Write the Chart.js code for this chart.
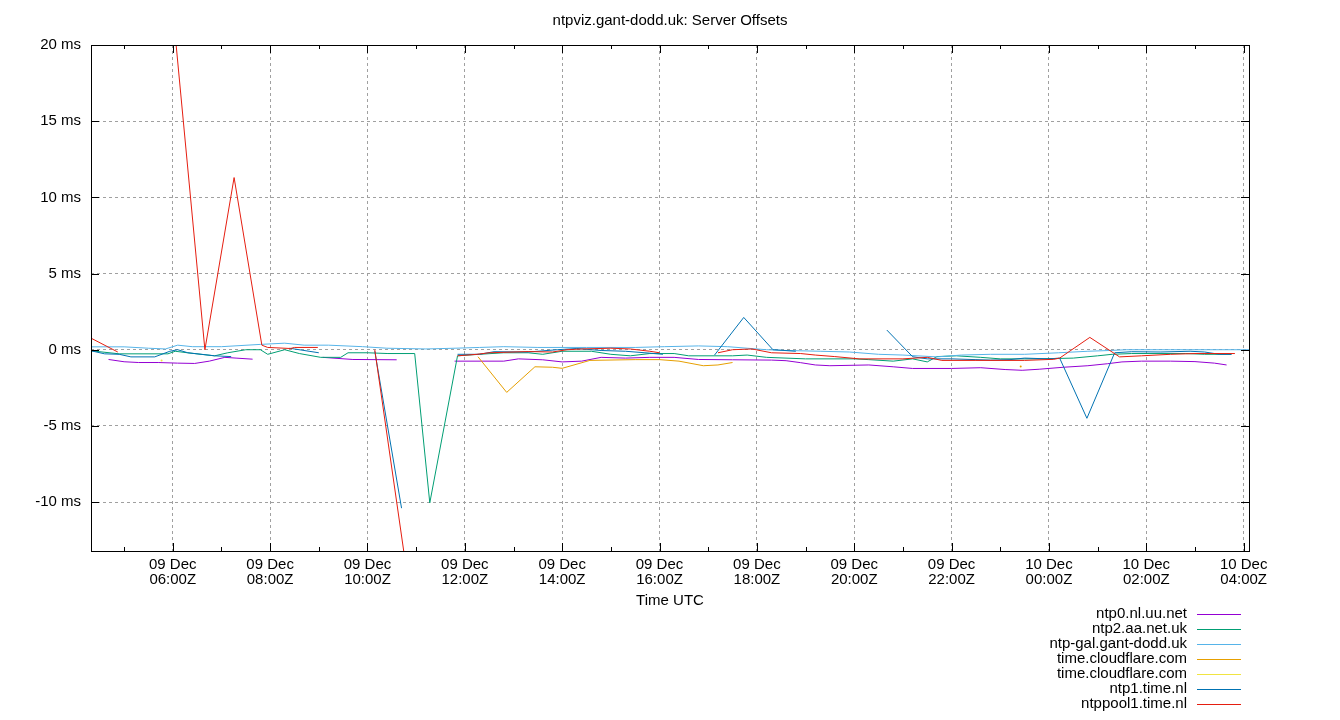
<!DOCTYPE html>
<html><head><meta charset="utf-8">
<script src="https://cdn.jsdelivr.net/npm/chart.js@4/dist/chart.umd.min.js"></script>
<style>html,body{margin:0;padding:0;background:#fff;}canvas{display:block;}</style>
</head><body>
<canvas id="c" width="1340" height="720"></canvas>
<script>
// ---- text ----
const chartTitle = 'ntpviz.gant-dodd.uk: Server Offsets';
const xAxisTitle = 'Time UTC';
const seriesNames = ['ntp0.nl.uu.net','ntp2.aa.net.uk','ntp-gal.gant-dodd.uk','time.cloudflare.com','time.cloudflare.com','ntp1.time.nl','ntppool1.time.nl'];

// ---- ticks (x in hours since 09 Dec 00:00Z) ----
const xTickHours = [6,8,10,12,14,16,18,20,22,24,26,28];
const xTickLabels = [['09 Dec','06:00Z'],['09 Dec','08:00Z'],['09 Dec','10:00Z'],['09 Dec','12:00Z'],['09 Dec','14:00Z'],['09 Dec','16:00Z'],['09 Dec','18:00Z'],['09 Dec','20:00Z'],['09 Dec','22:00Z'],['10 Dec','00:00Z'],['10 Dec','02:00Z'],['10 Dec','04:00Z']];
const yTickValues = [-10,-5,0,5,10,15,20];

// ---- series (hours, offset in ms; null = gap) ----
const ntp0Hours = [4.68,5.0,5.3,5.7,6.1,6.45,6.75,7.07,7.3,7.64,8.3,9.08,9.7,10.6,11.2,11.79,12.8,13.1,13.6,14.0,14.4,14.8,15.3,15.8,16.3,16.8,17.5,18.3,18.6,18.9,19.2,19.5,20.3,20.8,21.2,22.0,22.6,23.1,23.45,23.8,24.3,24.8,25.2,25.5,25.9,26.5,27.0,27.4,27.65];
const ntp0Ms = [-0.64,-0.79,-0.84,-0.84,-0.88,-0.9,-0.75,-0.5,-0.55,-0.62,null,-0.5,-0.64,-0.66,null,-0.75,-0.75,-0.6,-0.66,-0.8,-0.75,-0.5,-0.55,-0.5,-0.5,-0.64,-0.66,-0.68,-0.72,-0.85,-1.0,-1.05,-1.0,-1.12,-1.23,-1.23,-1.18,-1.3,-1.35,-1.28,-1.15,-1.05,-0.92,-0.8,-0.75,-0.75,-0.78,-0.88,-1.0];

const ntp2Hours = [4.32,4.9,5.9,6.05,6.3,6.86,7.13,7.5,7.8,7.95,8.3,8.6,9.04,9.45,9.6,10.0,10.42,10.97,11.28,11.85,12.3,12.8,13.3,13.6,14.0,14.6,15.0,15.4,15.8,16.3,16.6,17.5,17.8,18.2,19.0,20.0,20.3,20.8,21.2,21.5,21.7,22.1,22.6,23.0,23.8,24.5,25.0,25.3,25.7,26.8,27.2,27.75];
const ntp2Ms = [-0.07,-0.27,-0.27,-0.1,-0.2,-0.4,-0.2,0.0,0.0,-0.3,0.0,-0.25,-0.5,-0.5,-0.2,-0.2,-0.25,-0.25,-10.05,-0.4,-0.3,-0.2,-0.2,-0.3,-0.1,-0.1,-0.3,-0.4,-0.25,-0.25,-0.4,-0.4,-0.35,-0.5,-0.6,-0.6,-0.65,-0.75,-0.6,-0.8,-0.45,-0.4,-0.5,-0.6,-0.6,-0.55,-0.4,-0.3,-0.25,-0.25,-0.3,-0.3];

const galHours = [4.32,5.0,5.5,5.85,6.1,6.4,7.0,7.8,8.3,8.7,9.2,9.9,10.4,11.2,11.8,12.3,12.8,13.5,14.5,15.5,16.1,16.8,17.4,17.8,18.2,18.6,19.3,19.9,20.5,21.0,21.7,22.2,22.8,23.5,24.2,24.8,25.25,25.6,26.5,27.5,28.11];
const galMs = [0.19,0.19,0.1,0.05,0.3,0.2,0.2,0.35,0.43,0.3,0.3,0.2,0.1,0.05,0.1,0.15,0.2,0.15,0.15,0.15,0.2,0.25,0.2,0.1,0.0,-0.05,-0.1,-0.15,-0.3,-0.35,-0.47,-0.35,-0.3,-0.3,-0.2,-0.1,-0.05,0.0,0.0,0.0,0.0];

const cloudflareAHours = [12.27,12.86,13.44,13.8,14.0,14.57,15.5,16.0,16.4,16.9,17.2,17.5,20.0,23.42];
const cloudflareAMs = [-0.46,-2.8,-1.12,-1.15,-1.22,-0.7,-0.65,-0.65,-0.75,-1.05,-1.0,-0.84,null,-1.1];

const cloudflareBHours = [5.77];
const cloudflareBMs = [-0.7];

const ntp1Hours = [4.32,4.6,4.9,5.14,5.63,5.94,6.1,6.31,6.86,7.2,7.6,8.4,8.8,9.0,9.6,10.15,10.7,11.3,11.85,12.3,12.6,13.3,13.9,14.3,14.8,15.3,15.7,16.07,16.6,17.13,17.73,18.33,18.8,19.5,20.67,21.2,21.5,22.0,22.5,22.8,23.2,23.5,24.0,24.22,24.78,25.35,25.7,26.3,26.9,27.2,27.5,27.75];
const ntp1Ms = [-0.07,-0.27,-0.3,-0.47,-0.47,-0.1,0.0,-0.2,-0.4,-0.45,null,0.1,-0.1,-0.2,null,-0.1,-10.4,null,-0.3,-0.3,-0.13,-0.15,0.0,0.08,-0.05,-0.1,-0.2,-0.3,null,-0.35,2.12,0.0,-0.1,null,1.29,-0.46,-0.6,-0.6,-0.65,-0.68,-0.65,-0.55,-0.6,-0.55,-4.5,-0.2,-0.13,-0.15,-0.1,-0.15,-0.3,-0.3];

const poolHours = [4.32,4.87,5.4,6.06,6.66,7.26,7.83,7.95,8.42,8.5,8.98,9.6,10.15,10.78,11.3,11.85,12.25,12.5,13.3,13.8,14.1,14.4,15.0,15.4,15.8,16.0,16.6,17.2,17.5,17.9,18.3,18.9,19.2,19.6,20.1,21.0,21.5,21.8,22.5,23.5,24.1,24.22,24.84,25.45,25.9,26.5,27.0,27.82];
const poolMs = [0.76,-0.15,null,20.3,0.0,11.3,0.3,0.15,0.08,0.15,0.15,null,0.0,-14.0,null,-0.4,-0.3,-0.2,-0.12,-0.15,0.0,0.05,0.1,0.05,-0.1,-0.2,null,-0.2,0.0,0.05,-0.2,-0.25,-0.35,-0.45,-0.6,-0.6,-0.5,-0.7,-0.7,-0.7,-0.63,-0.55,0.81,-0.47,-0.4,-0.3,-0.25,-0.25];

// ---- styles ----
const seriesColors = ['#9400d3','#009e73','#56b4e9','#e69f00','#f0e442','#0072b2','#e51e10'];
const FONT = "'Liberation Sans', Arial, Helvetica, sans-serif";
const FONT_SIZE = 15;

const seriesHours = [ntp0Hours, ntp2Hours, galHours, cloudflareAHours, cloudflareBHours, ntp1Hours, poolHours];
const seriesMs = [ntp0Ms, ntp2Ms, galMs, cloudflareAMs, cloudflareBMs, ntp1Ms, poolMs];

function toPoints(h, v) { return h.map((x, i) => ({ x: x, y: v[i] })); }
function isolatedRadius(ctx) {
  const d = ctx.dataset.data, i = ctx.dataIndex;
  if (!d[i] || d[i].y === null) return 0;
  const prevGap = i === 0 || d[i - 1].y === null;
  const nextGap = i === d.length - 1 || d[i + 1].y === null;
  return (prevGap && nextGap) ? 1 : 0;
}

const datasets = seriesNames.map((name, i) => ({
  label: name,
  data: toPoints(seriesHours[i], seriesMs[i]),
  borderColor: seriesColors[i],
  backgroundColor: seriesColors[i],
  borderWidth: 1,
  pointRadius: isolatedRadius,
  pointHoverRadius: 0,
  pointBorderWidth: 0,
  fill: false,
  tension: 0,
  spanGaps: false,
  order: seriesNames.length - 1 - i
}));

const deco = {
  id: 'deco',
  afterDraw(chart) {
    const { ctx, chartArea: a } = chart;
    const x = chart.scales.x, y = chart.scales.y;
    ctx.save();
    ctx.strokeStyle = '#000';
    ctx.lineWidth = 1;
    ctx.beginPath();
    for (let h = Math.ceil(x.min); h <= x.max; h++) {
      const px = Math.round(x.getPixelForValue(h)) + 0.5;
      const len = xTickHours.includes(h) ? 8 : 4;
      ctx.moveTo(px, a.bottom); ctx.lineTo(px, a.bottom - len);
      ctx.moveTo(px, a.top); ctx.lineTo(px, a.top + len);
    }
    for (const v of yTickValues) {
      const py = Math.round(y.getPixelForValue(v)) + 0.5;
      ctx.moveTo(a.left, py); ctx.lineTo(a.left + 8, py);
      ctx.moveTo(a.right, py); ctx.lineTo(a.right - 8, py);
    }
    ctx.stroke();
    ctx.strokeRect(Math.round(a.left) + 0.5, Math.round(a.top) + 0.5, Math.round(a.right - a.left), Math.round(a.bottom - a.top));

    ctx.fillStyle = '#000';
    ctx.font = FONT_SIZE + 'px ' + FONT;
    ctx.textBaseline = 'middle';
    ctx.textAlign = 'center';
    const cx = (a.left + a.right) / 2;
    ctx.fillText(chartTitle, cx, 21);
    ctx.fillText(xAxisTitle, cx, 601);

    ctx.textAlign = 'right';
    chart.data.datasets.forEach((ds, i) => {
      const yy = 614 + i * 15.05;
      ctx.fillStyle = '#000';
      ctx.fillText(ds.label, 1187, yy);
      ctx.strokeStyle = ds.borderColor;
      ctx.beginPath();
      ctx.moveTo(1197, Math.round(yy) + 0.5);
      ctx.lineTo(1241, Math.round(yy) + 0.5);
      ctx.stroke();
    });
    ctx.restore();
  }
};

new Chart(document.getElementById('c'), {
  type: 'line',
  data: { datasets: datasets },
  options: {
    responsive: false,
    animation: false,
    devicePixelRatio: 1,
    events: [],
    layout: { padding: { top: 45, right: 91, bottom: 0, left: 0 } },
    plugins: { legend: { display: false }, title: { display: false }, tooltip: { enabled: false } },
    scales: {
      x: {
        type: 'linear',
        min: 4.32,
        max: 28.11,
        afterBuildTicks: s => { s.ticks = xTickHours.map(v => ({ value: v })); },
        afterFit: s => { s.height = 169; },
        grid: { color: '#a0a0a0', lineWidth: 1, drawTicks: false },
        border: { display: false, dash: [3, 3] },
        ticks: {
          padding: 7, maxRotation: 0, autoSkip: false, color: '#000',
          font: { family: FONT, size: FONT_SIZE, lineHeight: 0.96 },
          callback: v => xTickLabels[xTickHours.indexOf(v)]
        }
      },
      y: {
        type: 'linear',
        min: -13.21,
        max: 20,
        afterBuildTicks: s => { s.ticks = yTickValues.map(v => ({ value: v })); },
        afterFit: s => { s.width = 91; },
        grid: { color: '#a0a0a0', lineWidth: 1, drawTicks: false },
        border: { display: false, dash: [3, 3] },
        ticks: {
          padding: 10, color: '#000',
          font: { family: FONT, size: FONT_SIZE },
          callback: v => v + ' ms'
        }
      }
    }
  },
  plugins: [deco]
});
</script>
</body></html>
